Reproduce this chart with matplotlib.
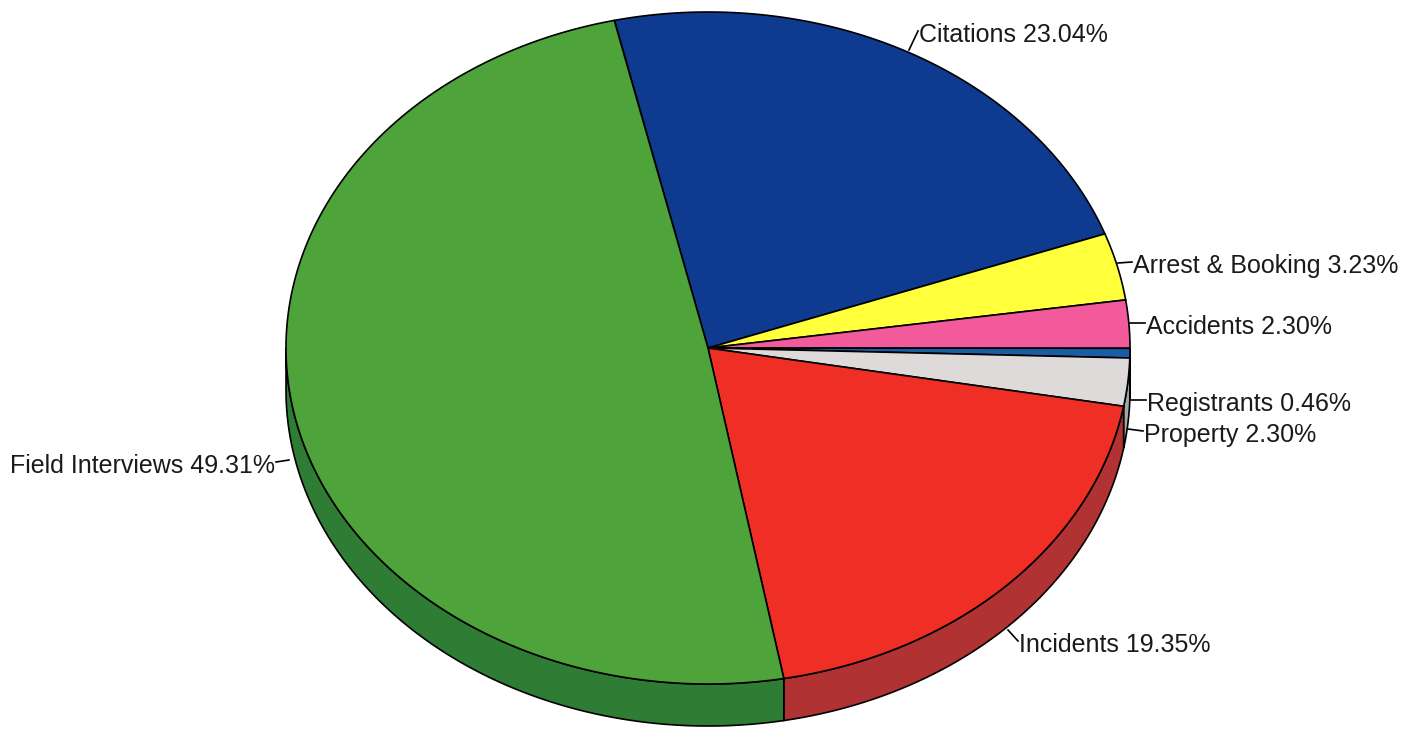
import numpy as np
import matplotlib.pyplot as plt
from matplotlib.patches import Polygon

# data
labels = ['Citations', 'Arrest & Booking', 'Accidents', 'Registrants',
          'Property', 'Incidents', 'Field Interviews']
shares = [23.04, 3.23, 2.30, 0.46, 2.30, 19.35, 49.31]
top_colors = ['#0e3b8f', '#ffff3c', '#f25a9c', '#1a5ca5',
              '#dedada', '#ef2e25', '#4ea43b']
side_colors = ['#0a2c6a', '#c8c82e', '#b84578', '#124580',
               '#a8a4a4', '#b03232', '#2f7d35']

# pie geometry (pixel coords, y down)
cx, cy = 708, 348
rx, ry = 422, 336
depth = 42
start = -12.8  # degrees clockwise from top


def pt(t, dy=0):
    t = np.radians(t)
    return cx + rx * np.sin(t), cy - ry * np.cos(t) + dy


fig = plt.figure(figsize=(14.21, 7.31), dpi=100)
ax = fig.add_axes([0, 0, 1, 1])
ax.set_xlim(0, 1421)
ax.set_ylim(731, 0)
ax.axis('off')

bounds = start + np.concatenate([[0], np.cumsum(shares)]) * 3.6

# side faces (front half 90..270)
for i in range(len(shares)):
    a, b = bounds[i], bounds[i + 1]
    lo, hi = max(a, 90), min(b, 270)
    if hi <= lo:
        continue
    ts = np.linspace(lo, hi, 200)
    topx, topy = pt(ts)
    botx, boty = pt(ts[::-1], depth)
    poly = np.column_stack([np.concatenate([topx, botx]),
                            np.concatenate([topy, boty])])
    ax.add_patch(Polygon(poly, closed=True, facecolor=side_colors[i],
                         edgecolor='black', lw=1.2, zorder=1))

# top faces
for i in range(len(shares)):
    a, b = bounds[i], bounds[i + 1]
    ts = np.linspace(a, b, max(int((b - a) * 3), 10))
    x, y = pt(ts)
    poly = np.column_stack([np.concatenate([[cx], x]),
                            np.concatenate([[cy], y])])
    ax.add_patch(Polygon(poly, closed=True, facecolor=top_colors[i],
                         edgecolor='black', lw=1.2, zorder=2))

# labels: leader start, leader end, text anchor
layout = [
    ((909, 50), (918, 31), 'left'),
    ((1118, 263), (1132, 262), 'left'),
    ((1130, 323), (1145, 323), 'left'),
    ((1131, 400), (1146, 400), 'left'),
    ((1128, 429), (1143, 431), 'left'),
    ((1008, 630), (1018, 641), 'left'),
    ((289, 460), (276, 462), 'right'),
]
for lab, s, (p0, p1, ha) in zip(labels, shares, layout):
    ax.plot([p0[0], p1[0]], [p0[1], p1[1]], color='black', lw=1.2, zorder=3)
    off = 1 if ha == 'left' else -1
    ax.text(p1[0] + off, p1[1] + 4, f'{lab} {s:.2f}%', ha=ha, va='center',
            fontsize=18, family='Liberation Sans', color='#1a1a1a')

fig.savefig('out.png', dpi=100)
